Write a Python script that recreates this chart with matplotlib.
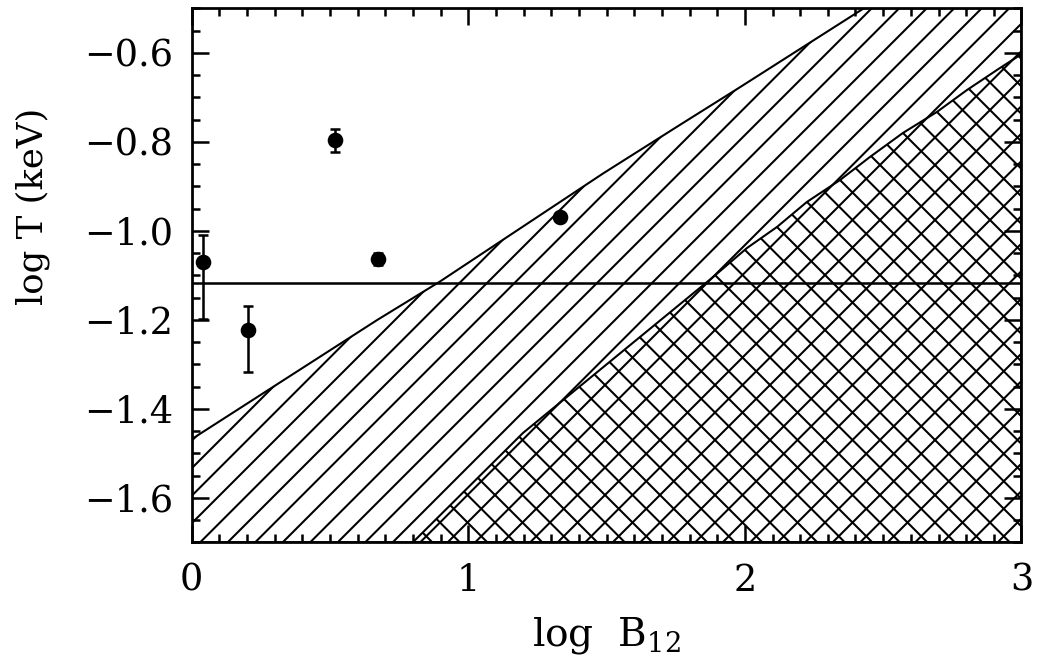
import matplotlib
matplotlib.use("Agg")
import matplotlib.pyplot as plt
from matplotlib.ticker import MultipleLocator, FuncFormatter

# ---- data ----
pt_x = [0.040, 0.203, 0.519, 0.673, 1.332]
pt_y = [-1.071, -1.223, -0.796, -1.064, -0.969]
err_lo = [0.127, 0.095, 0.026, 0.013, 0.0]
err_hi = [0.061, 0.054, 0.024, 0.013, 0.0]

hline_y = -1.117

# upper boundary of the single-hatched region
upper_x = [0.0, 0.109, 0.671, 0.898, 1.488, 1.759, 1.982, 2.43]
upper_y = [-1.4685, -1.425, -1.2005, -1.114, -0.871, -0.7645, -0.6775, -0.50]

# boundary of the cross-hatched region
lower_x = [0.80, 1.198, 1.885, 2.008, 2.116, 2.224, 2.344, 2.452, 2.571, 2.694, 2.803, 2.922, 3.0]
lower_y = [-1.70, -1.4544, -1.104, -1.0386, -0.9915, -0.9353, -0.8859, -0.8342, -0.7803, -0.733, -0.6836, -0.6342, -0.603]

xlim = (0, 3)
ylim = (-1.7, -0.5)
x_ticks = [0, 1, 2, 3]
y_ticks = [-1.6, -1.4, -1.2, -1.0, -0.8, -0.6]

DPI = 165
plt.rcParams['font.family'] = ['DejaVu Serif']
plt.rcParams['mathtext.fontset'] = 'dejavuserif'
plt.rcParams['hatch.linewidth'] = 0.9
plt.rcParams['hatch.color'] = 'black'

fig = plt.figure(figsize=(1038 / DPI, 670 / DPI), dpi=DPI)
ax = fig.add_axes([191.5 / 1038, 1 - 542.3 / 670, 830 / 1038, 534 / 670])

# single hatch: everything below the upper boundary
px = upper_x + [xlim[1], xlim[1], xlim[0]]
py = upper_y + [ylim[1], ylim[0], ylim[0]]
ax.fill(px, py, facecolor='none', edgecolor='black', hatch='//', linewidth=0.9, zorder=1)

# second hatch direction below the lower boundary
qx = lower_x + [xlim[1]]
qy = lower_y + [ylim[0]]
ax.fill(qx, qy, facecolor='none', edgecolor='black', hatch='\\\\', linewidth=0.9, zorder=1)

ax.axhline(hline_y, color='black', linewidth=1.1, zorder=2)

ax.errorbar(pt_x, pt_y, yerr=[err_lo, err_hi], fmt='o', color='black',
            markersize=5.8, elinewidth=1.1, capsize=2.2, capthick=1.1, zorder=3)

ax.set_xlim(*xlim)
ax.set_ylim(*ylim)
ax.set_xticks(x_ticks)
ax.set_yticks(y_ticks)
ax.xaxis.set_minor_locator(MultipleLocator(0.1))
ax.yaxis.set_minor_locator(MultipleLocator(0.05))
ax.yaxis.set_major_formatter(FuncFormatter(lambda v, p: ('%.1f' % v).replace('-', '\u2212')))
ax.xaxis.set_major_formatter(FuncFormatter(lambda v, p: '%d' % round(v)))

ax.tick_params(which='both', direction='in', top=True, right=True, width=1.1,
               labelsize=16, color='black')
ax.tick_params(which='major', length=7.4)
ax.tick_params(which='minor', length=3.5)
ax.tick_params(axis='x', which='major', pad=9)
ax.tick_params(axis='y', which='major', pad=8)
for s in ax.spines.values():
    s.set_linewidth(1.2)

ax.set_xlabel(r'log  B$_{\mathregular{12}}$', fontsize=17, labelpad=7)
ax.set_ylabel('log T (keV)', fontsize=15.5)
ax.yaxis.set_label_coords(-0.17, 0.63)

fig.savefig('out.png', dpi=DPI)
